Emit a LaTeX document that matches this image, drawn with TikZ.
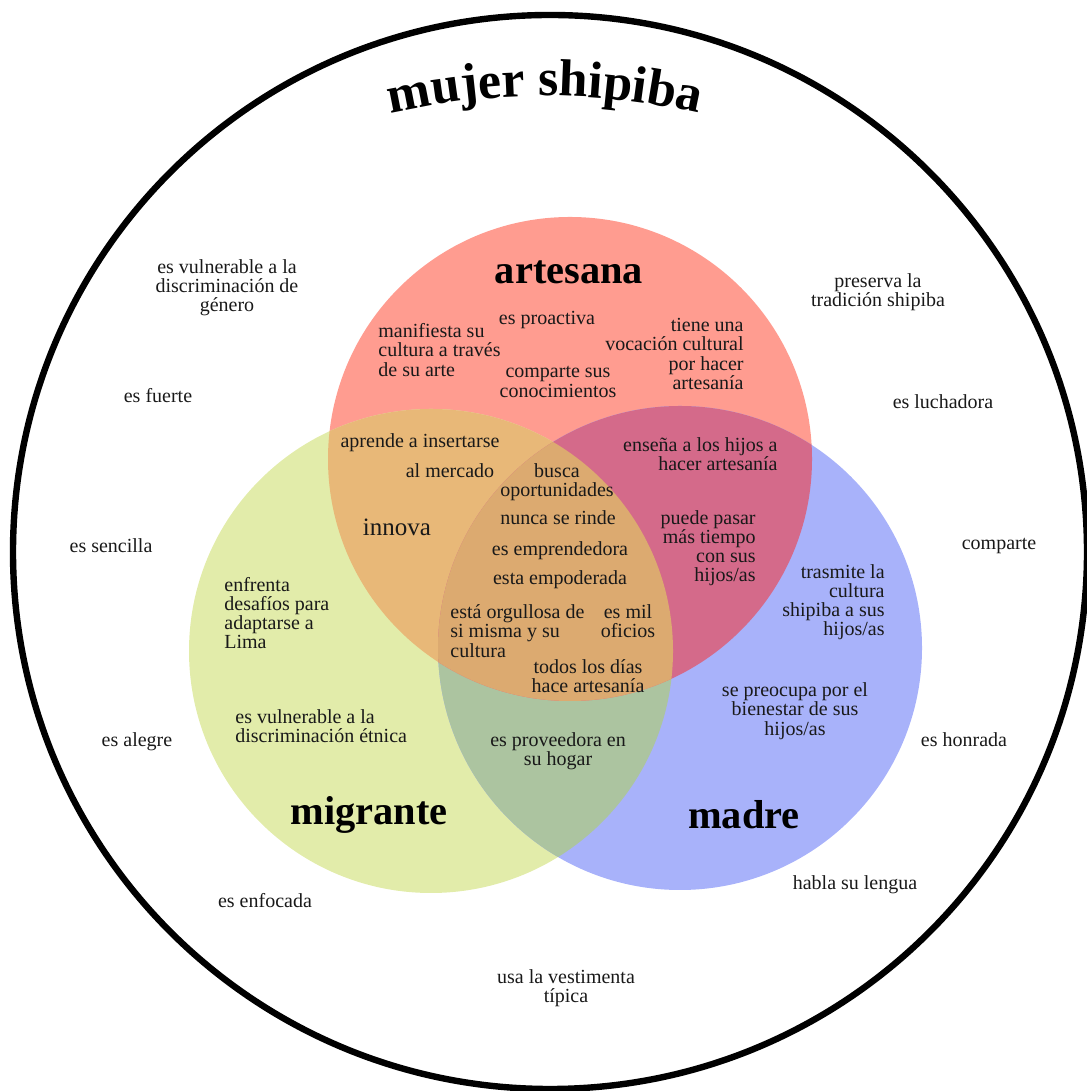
\documentclass[tikz,border=0pt]{standalone}
\usepackage{fontspec}
\setmainfont{Liberation Serif}
\usetikzlibrary{decorations.text}
\definecolor{artesanaRed}{RGB}{255,156,144}
\definecolor{migranteYellow}{RGB}{226,236,170}
\definecolor{madreBlue}{RGB}{168,178,250}
\definecolor{redYellow}{RGB}{232,184,120}
\definecolor{redBlue}{RGB}{212,106,138}
\definecolor{yellowBlue}{RGB}{172,196,160}
\definecolor{allThree}{RGB}{220,170,112}
\tikzset{
  trait/.style={inner sep=0pt,align=center,text=black!90,font=\fontsize{10}{9.6}\selectfont},
  setname/.style={inner sep=0pt,font=\fontsize{20.2}{22}\selectfont\bfseries},
}

\begin{document}
\begin{tikzpicture}[x=0.5pt,y=0.5pt]
\useasboundingbox (0,0) rectangle (1086,1091);
\coordinate (artesana) at (570,632);
\coordinate (migrante) at (431,440);
\coordinate (madre) at (680,443);
% the three sets and their overlaps
\fill[artesanaRed] (artesana) circle (242);
\fill[migranteYellow] (migrante) circle (242);
\fill[madreBlue] (madre) circle (242);
\begin{scope}
  \clip (migrante) circle (242);
  \fill[yellowBlue] (madre) circle (242);
\end{scope}
\begin{scope}
  \clip (artesana) circle (242);
  \fill[redYellow] (migrante) circle (242);
  \fill[redBlue] (madre) circle (242);
  \clip (migrante) circle (242);
  \fill[allThree] (madre) circle (242);
\end{scope}
% outer ring and title
\draw[line width=3.2pt] (550,539) circle (537);
\path[decorate,decoration={text along path,text align=center,
  text={|\fontsize{26}{26}\selectfont\bfseries|mujer shipiba}}]
  (545,305) ++(110:690) arc[start angle=110,end angle=70,radius=690];

% set names
\node[setname] (artesanaLbl) at (569,819) {artesana};
\node[setname] (migranteLbl) at (369,276) {migrante};
\node[setname] (madreLbl) at (744,276) {madre};

% outside the sets
\node[trait] (genero) at (227,803) {es vulnerable a la\\discriminación de\\género};
\node[trait] (fuerte) at (158,695) {es fuerte};
\node[trait] (sencilla) at (111,545) {es sencilla};
\node[trait] (alegre) at (137,349) {es alegre};
\node[trait] (enfocada) at (265,190) {es enfocada};
\node[trait] (vestimenta) at (566,103) {usa la vestimenta\\típica};
\node[trait] (lengua) at (855,206) {habla su lengua};
\node[trait] (honrada) at (964,351) {es honrada};
\node[trait] (comparte) at (999,545) {comparte};
\node[trait] (luchadora) at (943,689) {es luchadora};
\node[trait] (tradicion) at (878,799) {preserva la\\tradición shipiba};

% artesana
\node[trait] (proactiva) at (547,771) {es proactiva};
\node[trait,anchor=west,align=left] (manifiesta) at (378,741) {manifiesta su\\cultura a través\\de su arte};
\node[trait] (conocimientos) at (558,709) {comparte sus\\conocimientos};
\node[trait,anchor=east,align=right] (vocacion) at (744,737) {tiene una\\vocación cultural\\por hacer\\artesanía};

% artesana + migrante
\node[trait] (insertarse) at (420,648) {aprende a insertarse};
\node[trait] (mercado) at (450,620) {al mercado};
\node[trait,font=\fontsize{12.5}{14}\selectfont] (innova) at (397,564) {innova};

% artesana + madre
\node[trait,anchor=east,align=right] (ensena) at (778,637) {enseña a los hijos a\\hacer artesanía};
\node[trait,anchor=east,align=right] (tiempo) at (756,543) {puede pasar\\más tiempo\\con sus\\hijos/as};

% all three
\node[trait] (busca) at (557,609) {busca\\oportunidades};
\node[trait] (rinde) at (558,573) {nunca se rinde};
\node[trait] (emprendedora) at (560,540) {es emprendedora};
\node[trait] (empoderada) at (560,511) {esta empoderada};
\node[trait,anchor=west,align=left] (orgullosa) at (450,460) {está orgullosa de\\si misma y su\\cultura};
\node[trait] (oficios) at (628,470) {es mil\\oficios};
\node[trait] (todosDias) at (588,415) {todos los días\\hace artesanía};

% migrante
\node[trait,anchor=west,align=left] (desafios) at (224,478) {enfrenta\\desafíos para\\adaptarse a\\Lima};
\node[trait,anchor=west,align=left] (etnica) at (235,365) {es vulnerable a la\\discriminación étnica};

% migrante + madre
\node[trait] (proveedora) at (558,340) {es proveedora en\\su hogar};

% madre
\node[trait,anchor=east,align=right] (trasmite) at (885,489) {trasmite la\\cultura\\shipiba a sus\\hijos/as};
\node[trait] (bienestar) at (795,380) {se preocupa por el\\bienestar de sus\\hijos/as};
\end{tikzpicture}
\end{document}
